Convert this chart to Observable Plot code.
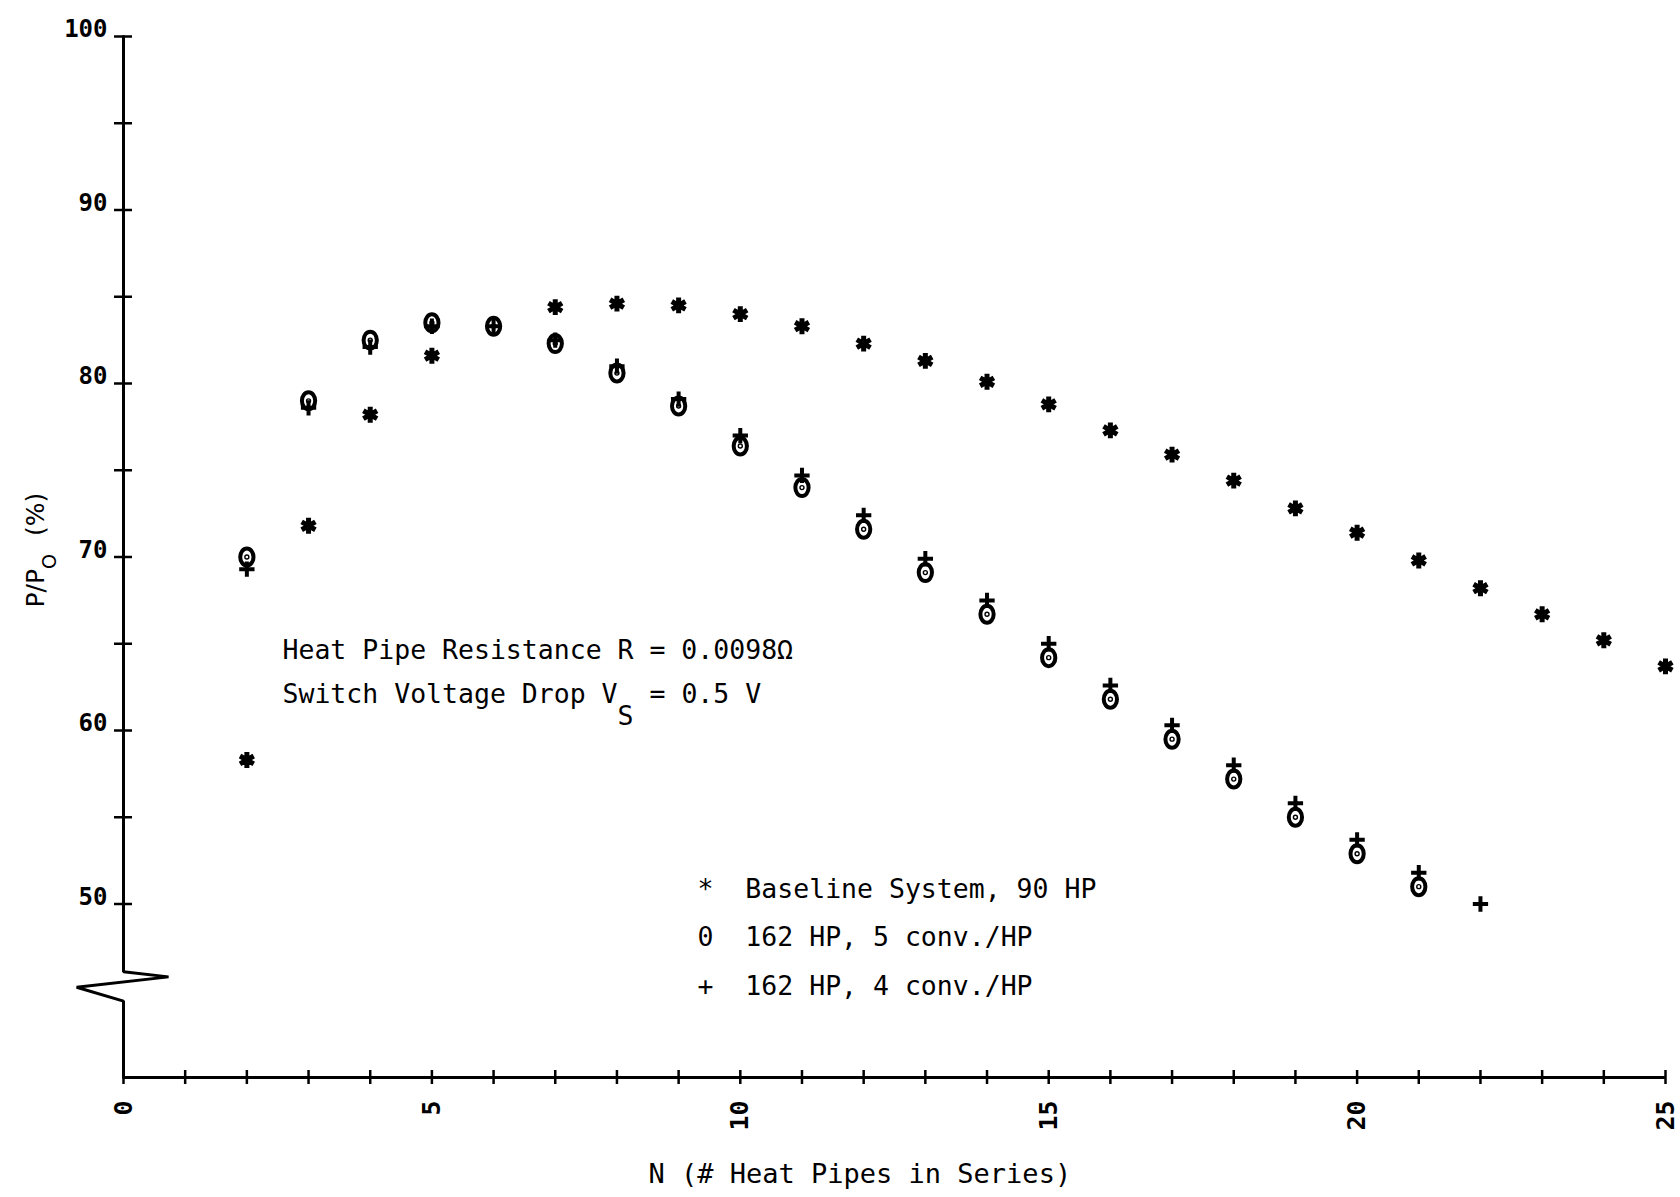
<!DOCTYPE html>
<html>
<head>
<meta charset="utf-8">
<script src="https://cdn.jsdelivr.net/npm/d3@7"></script>
<script src="https://cdn.jsdelivr.net/npm/@observablehq/plot@0.6"></script>
<style>
html, body { margin: 0; padding: 0; background: #fff; }
svg text { white-space: pre; }
svg g[aria-label="x-axis tick label"] text, svg g[aria-label="y-axis tick label"] text { font-variant-numeric: slashed-zero; }
</style>
</head>
<body>
<div id="chart"></div>
<script>
// ---- Data ----
const N_baseline = [2,3,4,5,6,7,8,9,10,11,12,13,14,15,16,17,18,19,20,21,22,23,24,25];
const P_baseline = [58.3,71.8,78.2,81.6,83.3,84.4,84.6,84.5,84.0,83.3,82.3,81.3,80.1,78.8,77.3,75.9,74.4,72.8,71.4,69.8,68.2,66.7,65.2,63.7];

const N_conv5 = [2,3,4,5,6,7,8,9,10,11,12,13,14,15,16,17,18,19,20,21];
const P_conv5 = [70.0,79.0,82.5,83.5,83.3,82.3,80.6,78.7,76.4,74.0,71.6,69.1,66.7,64.2,61.8,59.5,57.2,55.0,52.9,51.0];

const N_conv4 = [2,3,4,5,6,7,8,9,10,11,12,13,14,15,16,17,18,19,20,21,22];
const P_conv4 = [69.3,78.6,82.1,83.3,83.3,82.5,81.0,79.1,77.0,74.7,72.4,69.9,67.5,65.0,62.6,60.3,58.0,55.8,53.7,51.8,50.0];

const xMinorTicks = [0,1,2,3,4,5,6,7,8,9,10,11,12,13,14,15,16,17,18,19,20,21,22,23,24,25];
const xTickLabels = [0,5,10,15,20,25];
const yMinorTicks = [50,55,60,65,70,75,80,85,90,95,100];
const yTickLabels = [50,60,70,80,90,100];

// y-axis line with the scale-break zigzag (in data units)
const yAxisBreakX = [0, 0, 0.73, -0.76, 0, 0];
const yAxisBreakY = [100, 46.1, 45.8, 45.2, 44.4, 40];

const legendLabels = ["*  Baseline System, 90 HP", "0  162 HP, 5 conv./HP", "+  162 HP, 4 conv./HP"];
const annotationLines = ["Heat Pipe Resistance R = 0.0098Ω", "Switch Voltage Drop VS = 0.5 V"];
const xLabel = "N (# Heat Pipes in Series)";
const yLabel = "P/PO (%)";

// ---- Layout ----
const W = 1680, H = 1197;
const mL = 123, mR = 15, mT = 36, mB = 120;
const mono = "'DejaVu Sans Mono', 'Liberation Mono', monospace";

// Oval "0" marker with a centre dot
const ovalSymbol = {
  draw(ctx, size) {
    const r = Math.sqrt(size / Math.PI);
    const rx = 0.78 * r, ry = r, k = 0.5523;
    ctx.moveTo(rx, 0);
    ctx.bezierCurveTo(rx, ry * k, rx * k, ry, 0, ry);
    ctx.bezierCurveTo(-rx * k, ry, -rx, ry * k, -rx, 0);
    ctx.bezierCurveTo(-rx, -ry * k, -rx * k, -ry, 0, -ry);
    ctx.bezierCurveTo(rx * k, -ry, rx, -ry * k, rx, 0);
    ctx.closePath();
    ctx.moveTo(0.7, 0);
    ctx.arc(0, 0, 0.7, 0, 2 * Math.PI);
  }
};

function label(text, px, py, opts = {}) {
  return Plot.text([text], {
    text: d => d,
    frameAnchor: "top-left",
    dx: px - mL, dy: py - mT,
    textAnchor: "start", lineAnchor: "bottom",
    fontSize: 26.5, fontFamily: mono, fill: "black",
    ...opts
  });
}

const plot = Plot.plot({
  width: W, height: H,
  marginLeft: mL, marginRight: mR, marginTop: mT, marginBottom: mB,
  x: {domain: [0, 25]},
  y: {domain: [40, 100]},
  style: {background: "white", color: "black", overflow: "visible"},
  marks: [
    // axis tick marks crossing the axis lines
    Plot.axisY(yMinorTicks, {tickSize: 18, dx: 9, tickFormat: () => "", strokeWidth: 2.5, label: null}),
    Plot.axisY(yTickLabels, {tickSize: 0, tickPadding: 16, dy: -7, fontSize: 24, fontWeight: "bold", fontFamily: mono, label: null}),
    Plot.axisX(xMinorTicks, {tickSize: 14, dy: -7, tickFormat: () => "", strokeWidth: 2.5, label: null}),
    Plot.axisX(xTickLabels, {tickSize: 0, tickPadding: 23, tickRotate: -90, fontSize: 25, fontWeight: "bold", fontFamily: mono, label: null}),
    // axis lines
    Plot.line(yAxisBreakX.map((x, i) => [x, yAxisBreakY[i]]), {stroke: "black", strokeWidth: 3, strokeLinejoin: "miter"}),
    Plot.ruleY([40], {x1: 0, x2: 25, stroke: "black", strokeWidth: 3}),
    // data (baseline first, the "0" markers overstrike it)
    Plot.dot(N_baseline, {x: d => d, y: P_baseline, symbol: "asterisk", r: 7.5, stroke: "black", strokeWidth: 5}),
    Plot.dot(N_conv5, {x: d => d, y: P_conv5, symbol: ovalSymbol, r: 8.5, stroke: "black", fill: "white", strokeWidth: 4}),
    Plot.dot(N_conv4, {x: d => d, y: P_conv4, symbol: "plus", r: 5, stroke: "black", strokeWidth: 4}),
    // annotation
    label(annotationLines[0], 282, 658),
    label(annotationLines[1], 282, 702),
    // legend
    label(legendLabels[0], 697, 897),
    label(legendLabels[1], 697, 945),
    label(legendLabels[2], 697, 994),
    // axis titles
    label(xLabel, 648, 1182, {fontSize: 27}),
    label(yLabel, 43, 607, {rotate: -90, fontSize: 25, fontFamily: "'DejaVu Sans', sans-serif"})
  ]
});

// subscripts
d3.select(plot).selectAll("text").each(function () {
  const t = this.textContent;
  if (t === annotationLines[1]) {
    const s = d3.select(this); s.text(null);
    s.append("tspan").text("Switch Voltage Drop V");
    s.append("tspan").attr("dy", 22).text("S");
    s.append("tspan").attr("dy", -22).text(" = 0.5 V");
  } else if (t === yLabel) {
    const s = d3.select(this); s.text(null);
    s.append("tspan").text("P/P");
    s.append("tspan").attr("dy", 12).attr("font-size", 19).text("O");
    s.append("tspan").attr("dy", -12).attr("dx", 10).text(" (%)");
  }
});

document.getElementById("chart").appendChild(plot);
</script>
</body>
</html>
